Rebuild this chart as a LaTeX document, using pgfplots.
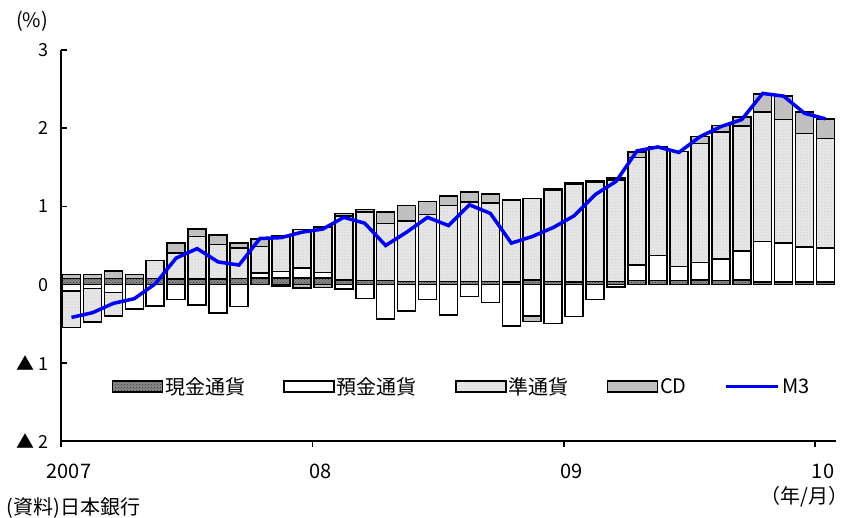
\documentclass[border=0pt]{standalone}
\usepackage{fontspec}
\setmainfont{Noto Sans CJK JP}
\usepackage{pgfplots}
\pgfplotsset{compat=1.18}
\usepackage{pgfplotstable}
\usetikzlibrary{patterns}

\definecolor{cashc}{HTML}{8A8A8A}
\definecolor{quasic}{HTML}{E6E6E6}
\definecolor{cdc}{HTML}{C0C0C0}
\definecolor{m3c}{HTML}{0000FF}

% contributions to M3 growth (% points), monthly 2007/1 - 2010/1
\pgfplotstableread{
x    cash  dep    quasi  cd     m3
0.5  0.08  -0.08  -0.47  0.05   -0.42
1.5  0.08  -0.05  -0.43  0.05   -0.36
2.5  0.08  -0.10  -0.30  0.09   -0.24
3.5  0.08  -0.31  0.00   0.05   -0.18
4.5  0.08  -0.27  0.23   0.00   0.01
5.5  0.075 -0.19  0.33   0.125  0.34
6.5  0.075 -0.26  0.54   0.094  0.46
7.5  0.075 -0.36  0.44   0.12   0.29
8.5  0.08  -0.28  0.39   0.06   0.25
9.5  0.085 0.06   0.34   0.10   0.59
10.5 0.085 0.08   0.46   -0.02  0.60
11.5 0.085 0.13   0.49   -0.04  0.67
12.5 0.085 0.07   0.585  -0.035 0.71
13.5 0.06  -0.06  0.82   0.03   0.86
14.5 0.05  -0.18  0.88   0.03   0.785
15.5 0.05  -0.44  0.73   0.15   0.50
16.5 0.04  -0.34  0.77   0.20   0.67
17.5 0.04  -0.19  0.855  0.17   0.86
18.5 0.04  -0.39  0.97   0.12   0.755
19.5 0.04  -0.15  1.015  0.13   1.02
20.5 0.04  -0.23  1.00   0.12   0.91
21.5 0.035 -0.53  1.05   0.00   0.53
22.5 0.06  -0.40  1.04   -0.07  0.615
23.5 0.04  -0.50  1.17   0.02   0.73
24.5 0.03  -0.41  1.25   0.02   0.88
25.5 0.04  -0.19  1.27   0.02   1.15
26.5 0.04  -0.03  1.30   0.02   1.32
27.5 0.05  0.20   1.375  0.07   1.71
28.5 0.05  0.32   1.39   0.00   1.76
29.5 0.05  0.18   1.47   0.00   1.69
30.5 0.06  0.225  1.52   0.09   1.89
31.5 0.05  0.28   1.62   0.085  2.02
32.5 0.06  0.37   1.60   0.11   2.11
33.5 0.03  0.52   1.66   0.23   2.445
34.5 0.03  0.50   1.58   0.30   2.41
35.5 0.03  0.45   1.45   0.28   2.19
36.5 0.03  0.44   1.40   0.25   2.12
}\moneydata

\pgfplotsset{
  base/.style={
    scale only axis, width=775pt, height=391pt,
    at={(0pt,0pt)}, anchor=south west,
    xmin=0, xmax=37, ymin=-2, ymax=3,
  },
  cashbar/.style={fill=cashc, draw=black, line width=1.6pt,
    postaction={pattern=crosshatch dots, pattern color=gray!40!black}},
  depbar/.style={fill=white, draw=black, line width=1.6pt},
  quasibar/.style={fill=quasic, draw=black, line width=1.6pt,
    postaction={pattern=dots, pattern color=gray!55}},
  cdbar/.style={fill=cdc, draw=black, line width=1.6pt},
  boxlegend/.style={legend image code/.code={\draw[##1] (0pt,-5pt) rectangle (50pt,6pt);}},
  linelegend/.style={legend image code/.code={\draw[##1] (0pt,0.5pt) -- (52pt,0.5pt);}},
}

\begin{document}
\begin{tikzpicture}
\path[use as bounding box] (-61pt,-77pt) rectangle (794pt,441pt);

% positive parts, with the visible axis and legend
\begin{axis}[base,
  ybar stacked, bar width=18pt,
  axis x line*=bottom, axis y line*=left,
  axis line style={line width=1.8pt},
  xtick={0,12,24,36}, xticklabels={2007,08,09,10},
  ytick={-2,-1,0,1,2,3}, yticklabels={▲ 2,▲ 1,0,1,2,3},
  tick align=inside, major tick length=6pt,
  tick style={line width=1.6pt, black},
  xtick style={yshift=-6pt},
  xticklabel style={font=\fontsize{20}{24}\selectfont, xshift=8pt, yshift=-19pt},
  yticklabel style={font=\fontsize{18}{22}\selectfont, xshift=-9pt},
  legend columns=5,
  legend style={at={(0.517,0.138)}, anchor=center, draw=none, fill=none,
    font=\fontsize{20}{24}\selectfont,
    /tikz/every even column/.append style={column sep=36pt}},
  legend cell align=left,
  boxlegend,
]
\addplot[cashbar] table[x=x, y expr={max(\thisrow{cash},0)}] {\moneydata};
\addlegendentry{現金通貨}
\addplot[depbar] table[x=x, y expr={max(\thisrow{dep},0)}] {\moneydata};
\addlegendentry{預金通貨}
\addplot[quasibar] table[x=x, y expr={max(\thisrow{quasi},0)}] {\moneydata};
\addlegendentry{準通貨}
\addplot[cdbar] table[x=x, y expr={max(\thisrow{cd},0)}] {\moneydata};
\addlegendentry{CD}
\addlegendimage{linelegend, m3c, line width=3.5pt}
\addlegendentry{M3}
\end{axis}

% negative parts, stacked downward from zero
\begin{axis}[base, hide axis, ybar stacked, bar width=18pt]
\addplot[depbar] table[x=x, y expr={min(\thisrow{dep},0)}] {\moneydata};
\addplot[quasibar] table[x=x, y expr={min(\thisrow{quasi},0)}] {\moneydata};
\addplot[cdbar] table[x=x, y expr={min(\thisrow{cd},0)}] {\moneydata};
\end{axis}

% M3 growth line
\begin{axis}[base, hide axis]
\addplot[m3c, line width=3.5pt, mark=none] table[x=x, y=m3] {\moneydata};
\end{axis}

\node[font=\fontsize{20}{24}\selectfont] at (-29pt,420pt) {(\%)};
\node[anchor=east, font=\fontsize{20}{24}\selectfont] at (791pt,-56pt) {（年/月）};
\node[anchor=west, font=\fontsize{20}{24}\selectfont] at (-58pt,-67pt) {(資料)日本銀行};
\end{tikzpicture}
\end{document}
